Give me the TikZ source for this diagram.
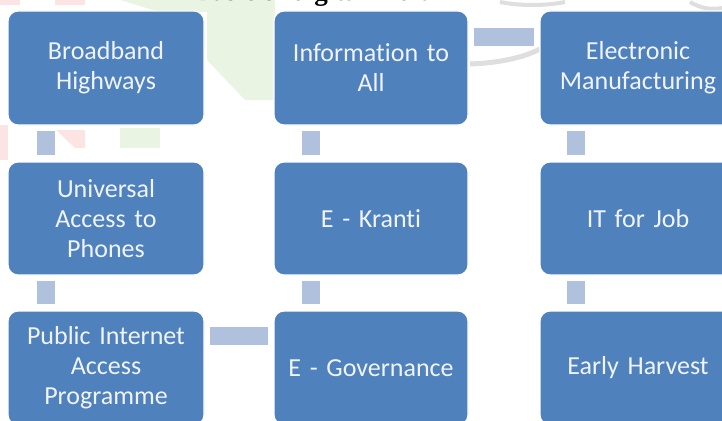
\documentclass[tikz,border=0pt]{standalone}
\usepackage{fontspec}
\setmainfont{Carlito}[Ligatures=NoCommon]
\newfontfamily\titlefont{Liberation Serif}
\definecolor{boxblue}{RGB}{79,129,189}
\definecolor{connblue}{RGB}{176,193,222}
\definecolor{wmgreen}{RGB}{234,244,226}
\definecolor{wmpink}{RGB}{252,228,228}
\definecolor{wmgray}{RGB}{222,222,222}
\definecolor{textwhite}{RGB}{240,244,250}
\tikzset{
  stepbox/.style={rectangle, rounded corners=10pt, fill=boxblue, draw=white, line width=1.2pt,
    minimum width=196pt, minimum height=114pt, text=textwhite, align=center, text width=190pt,
    font=\fontsize{26}{30}\selectfont, inner sep=0pt},
  conn/.style={draw=connblue, line width=18pt},
}
\begin{document}
\begin{tikzpicture}[x=1pt,y=-1pt]
\useasboundingbox (0,0) rectangle (722,420);
\begin{scope}
\clip (0,0) rectangle (722,420);
% faint watermark
\fill[wmgreen] (120,0) -- (275,0) -- (275,100) -- (245,100) -- (207,60) -- (207,12) -- (160,12) -- cycle;
\fill[wmgreen] (120,128) -- (160,128) -- (160,148) -- (120,148) -- cycle;
\fill[wmpink] (0,0) rectangle (20,5);
\fill[wmpink] (55,0) rectangle (85,5);
\fill[wmpink] (56,130) -- (85,130) -- (85,148) -- (75,148) -- cycle;
\fill[wmpink] (0,125) rectangle (8,160);
\draw[wmgray, line width=5pt] (470,64) .. controls (500,63) and (525,57) .. (540,49);
\draw[wmgray, line width=4pt] (500,2) .. controls (520,6) and (545,6) .. (565,2);
\draw[wmgray, line width=4pt] (690,2) .. controls (700,8) and (710,10) .. (722,8);
% title (partly cut off, as in the reference)
\node[anchor=base, font=\titlefont\bfseries\fontsize{27}{30}\selectfont, inner sep=0pt] (title) at (314,1) {Basic of digital India};
% boxes
\node[stepbox] (b11) at (106,68) {Broadband\\Highways};
\node[stepbox, minimum height=113pt] (b12) at (106,218.5) {Universal\\Access to\\Phones};
\node[stepbox] (b13) at (106,368) {Public Internet\\Access\\Programme};
\node[stepbox, minimum width=194pt] (b21) at (371,68) {Information to\\All};
\node[stepbox, minimum width=194pt, minimum height=113pt] (b22) at (371,218.5) {E - Kranti};
\node[stepbox, minimum width=194pt] (b23) at (371,368) {E - Governance};
\node[stepbox] (b31) at (638,68) {Electronic\\Manufacturing};
\node[stepbox, minimum height=113pt] (b32) at (638,218.5) {IT for Job};
\node[stepbox] (b33) at (638,368) {Early Harvest};
% connectors
\draw[conn] ([xshift=39pt,yshift=-5pt]b11.south west) -- ([xshift=39pt,yshift=6pt]b12.north west);
\draw[conn] ([xshift=39pt,yshift=-5pt]b12.south west) -- ([xshift=39pt,yshift=6pt]b13.north west);
\draw[conn] ([xshift=5pt,yshift=-26pt]b13.north east) -- ([xshift=-5pt,yshift=-26pt]b23.north west);
\draw[conn] ([xshift=38pt,yshift=6pt]b23.north west) -- ([xshift=38pt,yshift=-5pt]b22.south west);
\draw[conn] ([xshift=38pt,yshift=6pt]b22.north west) -- ([xshift=38pt,yshift=-5pt]b21.south west);
\draw[conn] ([xshift=5pt,yshift=-27pt]b21.north east) -- ([xshift=-5pt,yshift=-27pt]b31.north west);
\draw[conn] ([xshift=37pt,yshift=-5pt]b31.south west) -- ([xshift=37pt,yshift=6pt]b32.north west);
\draw[conn] ([xshift=37pt,yshift=-5pt]b32.south west) -- ([xshift=37pt,yshift=6pt]b33.north west);
\end{scope}
\end{tikzpicture}
\end{document}
